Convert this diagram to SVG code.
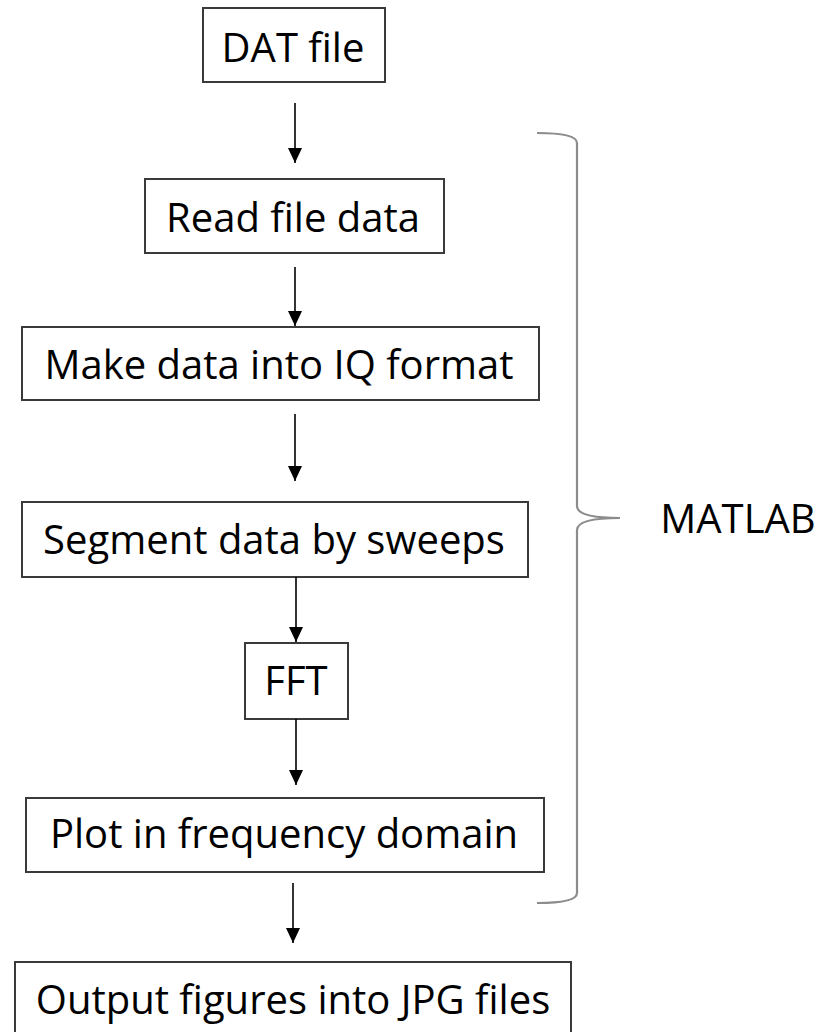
<svg xmlns="http://www.w3.org/2000/svg" width="819" height="1032" viewBox="0 0 819 1032">
  <style>
    .box { fill: #ffffff; stroke: #3a3a3a; stroke-width: 2; }
    .label { font-family: "Open Sans", "Liberation Sans", sans-serif; font-size: 40px; fill: #000000; text-anchor: middle; }
    .flow { stroke: #000000; stroke-width: 1.6; fill: none; marker-end: url(#arrow); }
    .brace { stroke: #8c8c8c; stroke-width: 2.2; fill: none; }
  </style>
  <defs>
    <!-- solid triangular arrowhead, tip at the line end -->
    <marker id="arrow" viewBox="0 0 15 14" refX="15" refY="7" markerWidth="15" markerHeight="14" markerUnits="userSpaceOnUse" orient="auto">
      <path d="M0,0 L15,7 L0,14 Z" fill="#000000"/>
    </marker>
  </defs>
  <rect width="819" height="1032" fill="#ffffff"/>

  <!-- process steps -->
  <g id="dat-file">
    <rect class="box" x="203" y="8" width="182" height="74"/>
    <text class="label" x="293" y="62">DAT file</text>
  </g>
  <g id="read-file-data">
    <rect class="box" x="145" y="179" width="299" height="74"/>
    <text class="label" x="293" y="232">Read file data</text>
  </g>
  <g id="iq-format">
    <rect class="box" x="22" y="327" width="517" height="73"/>
    <text class="label" x="279" y="379">Make data into IQ format</text>
  </g>
  <g id="segment-sweeps">
    <rect class="box" x="22" y="502" width="506" height="75"/>
    <text class="label" x="274" y="554">Segment data by sweeps</text>
  </g>
  <g id="fft">
    <rect class="box" x="245" y="643" width="103" height="76"/>
    <text class="label" x="296" y="695">FFT</text>
  </g>
  <g id="plot-frequency">
    <rect class="box" x="26" y="798" width="518" height="74"/>
    <text class="label" x="284" y="848">Plot in frequency domain</text>
  </g>
  <g id="output-jpg">
    <rect class="box" x="15" y="962" width="556" height="74"/>
    <text class="label" x="293" y="1014">Output figures into JPG files</text>
  </g>

  <!-- MATLAB bracket and label -->
  <g id="matlab">
    <path class="brace" d="M537,133 Q577,133 577,143 L577,506 Q577,518 620,518 Q577,518 577,530 L577,893 Q577,903 537,903"/>
    <text class="label" x="738" y="533">MATLAB</text>
  </g>

  <!-- connectors -->
  <g id="connectors">
    <line class="flow" x1="295" y1="103" x2="295" y2="163"/>
    <line class="flow" x1="295" y1="267" x2="295" y2="326"/>
    <line class="flow" x1="295" y1="414" x2="295" y2="481"/>
    <line class="flow" x1="296" y1="577" x2="296" y2="642"/>
    <line class="flow" x1="296" y1="719" x2="296" y2="785"/>
    <line class="flow" x1="293" y1="883" x2="293" y2="943"/>
  </g>
</svg>
